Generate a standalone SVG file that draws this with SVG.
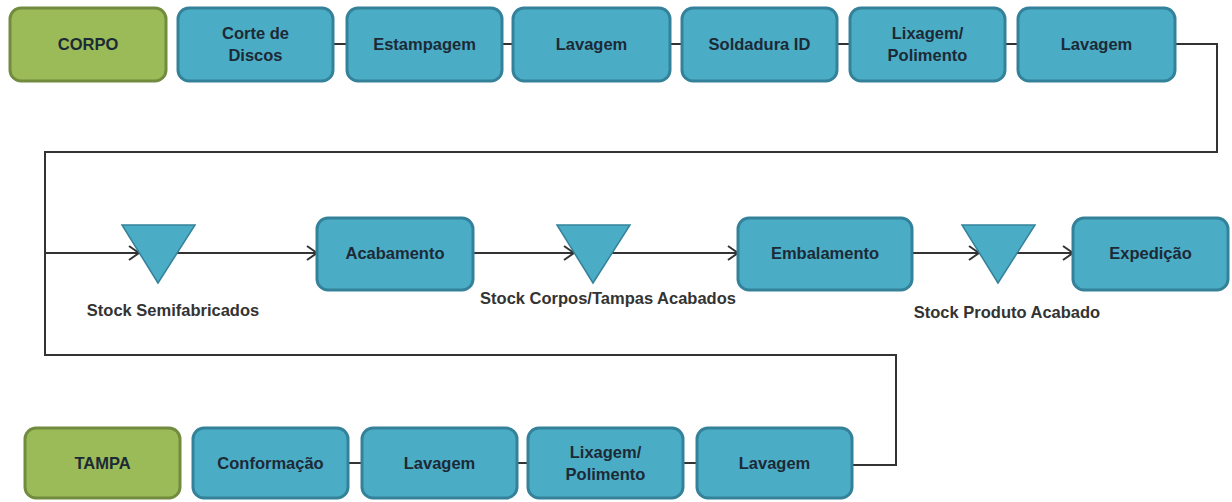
<svg xmlns="http://www.w3.org/2000/svg" width="1232" height="502" viewBox="0 0 1232 502">
<defs>
<style>
.g{fill:#9bbb59;stroke:#728c3f;stroke-width:3}
.b{fill:#4bacc6;stroke:#34829a;stroke-width:3}
.tri{fill:#4bacc6;stroke:#34829a;stroke-width:1.5}
.t{font-family:"Liberation Sans",Arial,sans-serif;font-weight:bold;font-size:16.5px;fill:#1c2a36;text-anchor:middle}
.s{font-family:"Liberation Sans",Arial,sans-serif;font-weight:bold;font-size:16.5px;fill:#333;text-anchor:middle}
.c{fill:none;stroke:#333;stroke-width:2}
</style>
<marker id="ar" viewBox="0 0 12 16" refX="11" refY="8" markerWidth="12" markerHeight="16" markerUnits="userSpaceOnUse" orient="auto">
<path d="M1,1 L11,8 L1,15" fill="none" stroke="#333" stroke-width="2"/>
</marker>
</defs>
<rect width="1232" height="502" fill="#ffffff"/>
<g id="connectors">
<line class="c" x1="333" y1="44" x2="347" y2="44"/>
<line class="c" x1="502" y1="44" x2="513" y2="44"/>
<line class="c" x1="670" y1="44" x2="682" y2="44"/>
<line class="c" x1="837" y1="44" x2="850" y2="44"/>
<line class="c" x1="1005" y1="44" x2="1018" y2="44"/>
<polyline class="c" points="1175,44 1217,44 1217,152 45,152 45,355 896,355 896,465 852,465"/>
<line class="c" x1="45" y1="253" x2="139" y2="253" marker-end="url(#ar)"/>
<line class="c" x1="177" y1="253" x2="317" y2="253" marker-end="url(#ar)"/>
<line class="c" x1="473" y1="253" x2="574" y2="253" marker-end="url(#ar)"/>
<line class="c" x1="612" y1="253" x2="738" y2="253" marker-end="url(#ar)"/>
<line class="c" x1="912" y1="253" x2="979" y2="253" marker-end="url(#ar)"/>
<line class="c" x1="1017" y1="253" x2="1073" y2="253" marker-end="url(#ar)"/>
<line class="c" x1="348" y1="463" x2="362" y2="463"/>
<line class="c" x1="517" y1="463" x2="528" y2="463"/>
<line class="c" x1="683" y1="463" x2="697" y2="463"/>
</g>
<g id="corpo"><rect class="g" x="10" y="8" width="156" height="73" rx="11"/><text class="t" x="88" y="50">CORPO</text></g>
<g id="corte"><rect class="b" x="178" y="8" width="155" height="73" rx="11"/><text class="t" x="255.5" y="39">Corte de</text><text class="t" x="255.5" y="61">Discos</text></g>
<g id="estampagem"><rect class="b" x="347" y="8" width="155" height="73" rx="11"/><text class="t" x="424.5" y="50">Estampagem</text></g>
<g id="lavagem1"><rect class="b" x="513" y="8" width="157" height="73" rx="11"/><text class="t" x="591.5" y="50">Lavagem</text></g>
<g id="soldadura"><rect class="b" x="682" y="8" width="155" height="73" rx="11"/><text class="t" x="759.5" y="50">Soldadura ID</text></g>
<g id="lixagem1"><rect class="b" x="850" y="8" width="155" height="73" rx="11"/><text class="t" x="927.5" y="39">Lixagem/</text><text class="t" x="927.5" y="61">Polimento</text></g>
<g id="lavagem2"><rect class="b" x="1018" y="8" width="157" height="73" rx="11"/><text class="t" x="1096.5" y="50">Lavagem</text></g>
<g id="stock1"><polygon class="tri" points="122,225 195,225 158,283"/><text class="s" x="173" y="316">Stock Semifabricados</text></g>
<g id="acabamento"><rect class="b" x="317" y="218" width="156" height="72" rx="11"/><text class="t" x="395" y="259">Acabamento</text></g>
<g id="stock2"><polygon class="tri" points="557,225 630,225 593,283"/><text class="s" x="608" y="304">Stock Corpos/Tampas Acabados</text></g>
<g id="embalamento"><rect class="b" x="738" y="218" width="174" height="72" rx="11"/><text class="t" x="825" y="259">Embalamento</text></g>
<g id="stock3"><polygon class="tri" points="962,225 1035,225 998,283"/><text class="s" x="1007" y="318">Stock Produto Acabado</text></g>
<g id="expedicao"><rect class="b" x="1073" y="218" width="155" height="72" rx="11"/><text class="t" x="1150.5" y="259">Expedição</text></g>
<g id="tampa"><rect class="g" x="25" y="428" width="155" height="70" rx="11"/><text class="t" x="102.5" y="469">TAMPA</text></g>
<g id="conformacao"><rect class="b" x="193" y="428" width="155" height="70" rx="11"/><text class="t" x="270.5" y="469">Conformação</text></g>
<g id="lavagem3"><rect class="b" x="362" y="428" width="155" height="70" rx="11"/><text class="t" x="439.5" y="469">Lavagem</text></g>
<g id="lixagem2"><rect class="b" x="528" y="428" width="155" height="70" rx="11"/><text class="t" x="605.5" y="458">Lixagem/</text><text class="t" x="605.5" y="480">Polimento</text></g>
<g id="lavagem4"><rect class="b" x="697" y="428" width="155" height="70" rx="11"/><text class="t" x="774.5" y="469">Lavagem</text></g>
</svg>
